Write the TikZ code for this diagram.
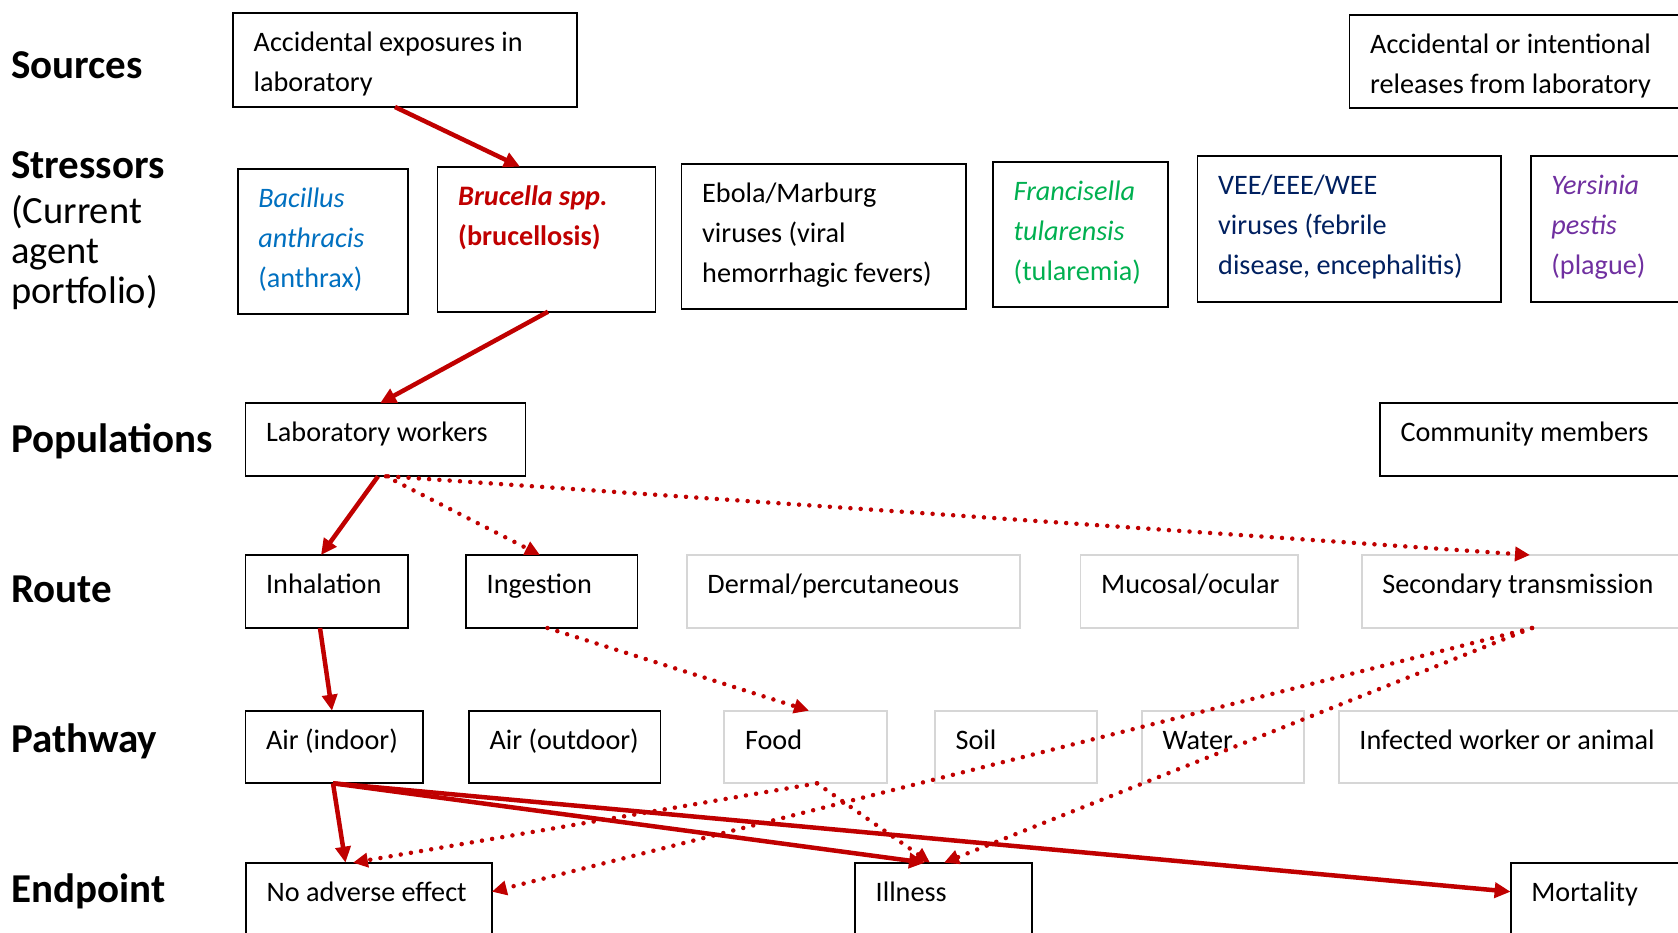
\documentclass[tikz,border=0pt]{standalone}
\usepackage{fontspec}
\setmainfont{Carlito}
\usetikzlibrary{arrows.meta,calc}
\definecolor{myred}{HTML}{C00000}
\definecolor{bacblue}{HTML}{0070C0}
\definecolor{frgreen}{HTML}{00B050}
\definecolor{veenavy}{HTML}{002060}
\definecolor{yerpurple}{HTML}{7030A0}
\definecolor{lgray}{HTML}{D6D6D6}

\tikzset{
  box/.style={draw=black, line width=1.8pt, outer sep=0pt, inner sep=0pt, anchor=north west},
  gbox/.style={draw=lgray, line width=1.8pt, outer sep=0pt, inner sep=0pt, anchor=north west},
  lbl/.style={anchor=north west, inner sep=0pt, align=left, font=\fontsize{28.2}{40}\selectfont},
  head/.style={anchor=base west, inner sep=0pt, font=\fontsize{41}{44}\selectfont\bfseries},
  headr/.style={anchor=north west, inner sep=0pt, align=left, font=\fontsize{38.5}{40}\selectfont},
  sarrow/.style={draw=myred, line width=4.5pt, -{Triangle[length=16pt,width=15pt]}},
  darrow/.style={draw=myred, line width=4.5pt, line cap=round, dash pattern=on 0pt off 10.3pt,
    -{Triangle[length=15pt,width=14pt]}},
}

% #1 name, #2 frame style, #3 x, #4 y (from top), #5 width, #6 height, #7 text colour, #8 text
\newcommand\mkbox[8]{%
  \node[#2, minimum width=#5pt, minimum height=#6pt] (#1) at (#3pt,-#4pt) {};
  \node[lbl, text=#7] (#1-t) at ([shift={(20.5pt,-10.3pt)}]#1.north west) {\strut #8};
}

\begin{document}
\begin{tikzpicture}
\useasboundingbox (0,0) rectangle (1678pt,-932pt);
\fill[white] (0,0) rectangle (1678pt,-932pt);
\begin{scope}
\clip (0,0) rectangle (1678pt,-932pt);

% row headings
\node[head] (h-src) at (11pt,-78.5pt) {Sources};
\node[head] (h-str) at (11pt,-178pt) {Stressors};
\node[headr] (h-str2) at (11pt,-193pt) {\rule{0pt}{30pt}(Current\\agent\\portfolio)};
\node[head] (h-pop) at (11pt,-452.5pt) {Populations};
\node[head] (h-rte) at (11pt,-602.5pt) {Route};
\node[head] (h-pth) at (11pt,-752.5pt) {Pathway};
\node[head] (h-end) at (11pt,-902.5pt) {Endpoint};

% sources
\mkbox{src1}{box}{233}{12.7}{344}{94.3}{black}{Accidental exposures in\\laboratory}
\mkbox{src2}{box}{1349.5}{14.7}{400}{93}{black}{Accidental or intentional\\releases from laboratory}

% stressors
\mkbox{bac}{box}{237.6}{169}{170}{144.7}{bacblue}{\textit{Bacillus}\\\textit{anthracis}\\(anthrax)}
\mkbox{bru}{box}{437.5}{166.7}{218}{145}{myred}{\textbf{\textit{Brucella spp.}}\\\textbf{(brucellosis)}}
\mkbox{ebo}{box}{681.5}{164}{284.5}{145.3}{black}{Ebola/Marburg\\viruses (viral\\hemorrhagic fevers)}
\mkbox{fra}{box}{993}{162}{175}{144.7}{frgreen}{\textit{Francisella}\\\textit{tularensis}\\(tularemia)}
\mkbox{vee}{box}{1197.5}{156.3}{303.5}{145.4}{veenavy}{VEE/EEE/WEE\\viruses (febrile\\disease, encephalitis)}
\mkbox{yer}{box}{1530.7}{156.3}{300}{145.4}{yerpurple}{\textit{Yersinia}\\\textit{pestis}\\(plague)}

% populations
\mkbox{lab}{box}{245.4}{403.3}{280.1}{73}{black}{Laboratory workers}
\mkbox{com}{box}{1379.8}{403.3}{400}{73}{black}{Community members}

% routes
\mkbox{inh}{box}{245.4}{555}{162.8}{73}{black}{Inhalation}
\mkbox{ing}{box}{466}{555}{171.5}{73}{black}{Ingestion}
\mkbox{der}{gbox}{686.7}{555}{333}{73}{black}{Dermal/percutaneous}
\mkbox{muc}{gbox}{1080.5}{555}{217.8}{73}{black}{Mucosal/ocular}
\mkbox{sec}{gbox}{1361.7}{555}{400}{73}{black}{Secondary transmission}

% pathways
\mkbox{ain}{box}{245.4}{710.7}{177.8}{72.6}{black}{Air (indoor)}
\mkbox{aout}{box}{468.8}{710.7}{191.7}{72.6}{black}{Air (outdoor)}
\mkbox{food}{gbox}{724.3}{710.7}{162.5}{72.6}{black}{Food}
\mkbox{soil}{gbox}{934.9}{710.7}{162}{72.6}{black}{Soil}
\mkbox{wat}{gbox}{1141.8}{710.7}{161.9}{72.6}{black}{Water}
\mkbox{inf}{gbox}{1338.7}{710.7}{400}{72.6}{black}{Infected worker or animal}

% endpoints
\mkbox{noad}{box}{245.9}{862.7}{245.9}{100}{black}{No adverse effect}
\mkbox{ill}{box}{855}{862.7}{176.8}{100}{black}{Illness}
\mkbox{mort}{box}{1510.6}{862.7}{300}{100}{black}{Mortality}

% exposure chain
\draw[sarrow] ([xshift=162pt]src1.south west) -- ([xshift=82.5pt]bru.north west);
\draw[sarrow] ([xshift=110.5pt]bru.south west) -- ([xshift=134.6pt]lab.north west);
\draw[sarrow] ([xshift=132.6pt]lab.south west) -- ([xshift=75.6pt]inh.north west);
\draw[darrow] ([xshift=140.6pt]lab.south west) -- ([xshift=74pt]ing.north west);
\draw[darrow] ([xshift=142.6pt]lab.south west) -- ([xshift=168.3pt]sec.north west);
\draw[sarrow] ([xshift=74.6pt]inh.south west) -- ([xshift=86.6pt]ain.north west);
\draw[darrow] ([xshift=81.5pt]ing.south west) -- ([xshift=84.7pt]food.north west);
\draw[sarrow] ([xshift=87.6pt]ain.south west) -- ([xshift=99.6pt]noad.north west);
\draw[sarrow] ([xshift=87.6pt]ain.south west) -- ([xshift=70pt]ill.north west);
\draw[sarrow] ([xshift=87.6pt]ain.south west) -- ([yshift=-29pt]mort.north west);
\draw[darrow] ([xshift=92.7pt]food.south west) -- ([xshift=107pt]noad.north west);
\draw[darrow] ([xshift=92.7pt]food.south west) -- ([xshift=75pt]ill.north west);
\draw[darrow] ([xshift=170.3pt]sec.south west) -- ([yshift=-29pt]noad.north east);
\draw[darrow] ([xshift=170.3pt]sec.south west) -- ([xshift=89pt]ill.north west);
\end{scope}
\end{tikzpicture}
\end{document}
